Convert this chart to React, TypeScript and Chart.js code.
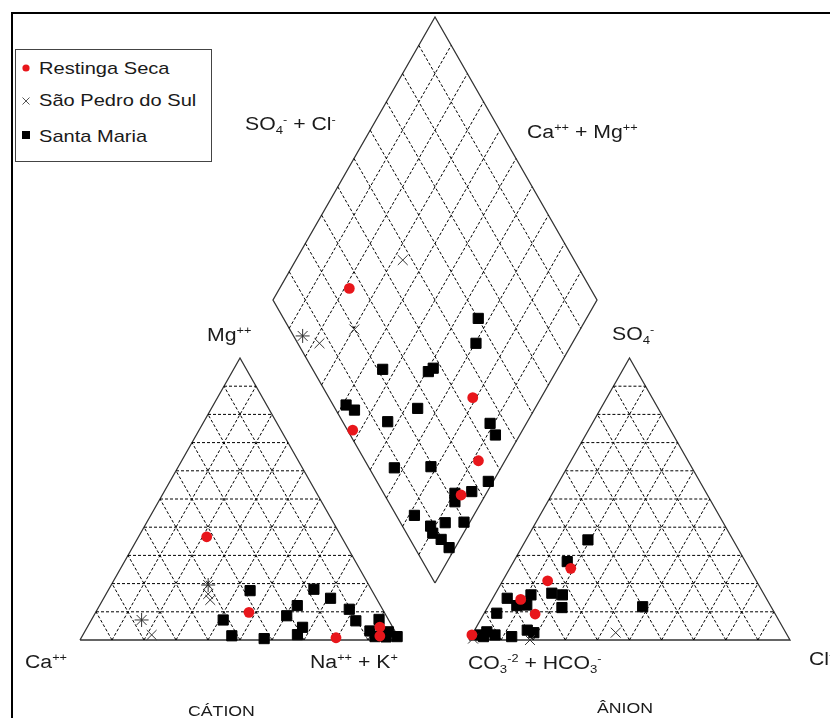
import React, { useEffect, useRef } from "react";
import { Chart, registerables } from "chart.js";

Chart.register(...registerables);

// ---------------- DATA (percent of meq/L) ----------------
// Cation triangle: [Ca++, Mg++, Na+ + K+]
const cationRestingaSeca: number[][] = [
  [42.1, 36.6, 21.3], [42.3, 9.8, 47.9], [19.6, 0.8, 79.6], [4.0, 4.6, 91.4], [5.6, 1.4, 93.0],
];
const cationSaoPedro: number[][] = [
  [50.2, 19.5, 30.3], [51.8, 16.3, 31.9], [52.2, 14.2, 33.6], [77.2, 7.1, 15.7], [76.7, 1.8, 21.5],
];
const cationSantaMaria: number[][] = [
  [38.1, 17.5, 44.4], [17.9, 18.0, 64.1], [14.3, 14.8, 70.9], [26.0, 12.2, 61.8], [10.4, 10.9, 78.7],
  [51.7, 7.1, 41.2], [31.1, 8.6, 60.3], [10.4, 6.8, 82.8], [28.2, 4.5, 67.3], [31.1, 1.9, 67.0],
  [51.8, 1.5, 46.7], [42.2, 0.5, 57.3], [2.9, 7.3, 89.8], [7.8, 3.2, 89.0], [7.2, 1.2, 91.6],
  [2.2, 2.9, 94.9], [0.3, 1.2, 98.5], [3.8, 1.1, 95.1],
];

// Anion triangle: [CO3-2 + HCO3-, SO4-, Cl-]
const anionRestingaSeca: number[][] = [
  [55.6, 25.4, 19.0], [65.0, 21.0, 14.0], [76.7, 14.4, 8.9], [74.8, 9.2, 16.0], [98.2, 1.8, 0.0],
];
const anionSaoPedro: number[][] = [
  [53.0, 2.6, 44.4], [81.0, 0.0, 19.0], [98.5, 0.5, 1.0],
];
const anionSantaMaria: number[][] = [
  [45.2, 35.5, 19.3], [55.5, 27.8, 16.7], [65.9, 16.6, 17.5], [62.9, 16.0, 21.1], [65.3, 11.5, 23.2],
  [80.7, 14.8, 4.5], [72.7, 16.0, 11.3], [79.0, 12.2, 8.8], [75.8, 12.4, 11.8], [86.6, 9.5, 3.9],
  [40.0, 11.8, 48.2], [93.0, 2.9, 4.1], [91.0, 1.8, 7.2], [94.9, 1.2, 3.9], [86.1, 1.2, 12.7],
  [80.1, 3.5, 16.4], [78.5, 2.6, 18.9], [95.7, 1.8, 2.5],
];

// Diamond: [Na+ + K+, SO4- + Cl-]
const diamondRestingaSeca: number[][] = [
  [21.5, 25.6], [78.9, 44.4], [47.6, 1.6], [91.8, 35.0], [92.5, 23.6],
];
const diamondSaoPedro: number[][] = [
  [33.0, 47.1], [15.5, 2.8], [22.0, 6.7], [30.3, 19.9],
];
const diamondSantaMaria: number[][] = [
  [66.6, 60.1], [70.3, 55.0], [46.1, 21.6], [60.6, 35.3], [61.5, 37.4], [41.1, 4.0],
  [44.6, 5.7], [63.8, 25.5], [56.9, 13.9], [88.8, 45.2], [92.5, 44.8], [67.1, 7.8],
  [78.2, 19.3], [98.5, 34.4], [95.2, 27.5], [90.3, 22.0], [91.8, 20.5], [81.7, 5.6],
  [92.5, 13.8], [98.2, 19.7], [88.6, 8.7], [90.5, 8.1], [94.2, 9.6], [98.1, 10.6],
];

const seriesNames = ["Restinga Seca", "São Pedro do Sul", "Santa Maria"];
const gridSteps = [10, 20, 30, 40, 50, 60, 70, 80, 90];

// ---------------- GEOMETRY (layout in canvas units) ----------------
type Pt = { x: number; y: number };
type Tri = { left: Pt; right: Pt; top: Pt };
const W = 830;
const H = 718;
const CAT: Tri = { left: { x: 80, y: 640 }, right: { x: 400, y: 640 }, top: { x: 240, y: 358 } };
const AN: Tri = { left: { x: 469, y: 640 }, right: { x: 790, y: 640 }, top: { x: 629.5, y: 358 } };
const DB: Pt = { x: 435, y: 583 };
const DL: Pt = { x: 273, y: 300 };
const DR: Pt = { x: 597, y: 300 };

function tern(t: Tri, l: number, a: number, r: number): Pt {
  const s = l + a + r;
  return {
    x: (l * t.left.x + a * t.top.x + r * t.right.x) / s,
    y: (l * t.left.y + a * t.top.y + r * t.right.y) / s,
  };
}
function dia(na: number, s: number): Pt {
  const u = 1 - na / 100;
  const v = s / 100;
  return { x: DB.x + u * (DL.x - DB.x) + v * (DR.x - DB.x), y: DB.y + u * (DL.y - DB.y) + v * (DR.y - DB.y) };
}

const RED = "#e8161b";
const FONT = '"Liberation Sans", Arial, Helvetica, sans-serif';

function buildDatasets(): any[] {
  const ds: any[] = [];
  const line = (pts: Pt[], dashed: boolean) => {
    ds.push({
      data: pts,
      showLine: true,
      pointRadius: 0,
      borderColor: dashed ? "#000" : "#333",
      borderWidth: dashed ? 1 : 1.3,
      borderDash: dashed ? [3, 2] : [],
      fill: false,
      clip: false,
      order: 10,
      tension: 0,
    });
  };
  for (const t of [CAT, AN]) {
    for (const f of gridSteps) {
      line([tern(t, 100 - f, f, 0), tern(t, 0, f, 100 - f)], true);
      line([tern(t, 100 - f, 0, f), tern(t, 0, 100 - f, f)], true);
      line([tern(t, f, 0, 100 - f), tern(t, f, 100 - f, 0)], true);
    }
    line([t.left, t.right, t.top, t.left], false);
  }
  for (const f of gridSteps) {
    line([dia(f, 0), dia(f, 100)], true);
    line([dia(0, f), dia(100, f)], true);
  }
  line([dia(100, 0), dia(0, 0), dia(0, 100), dia(100, 100), dia(100, 0)], false);

  const red = [
    ...cationRestingaSeca.map((p) => tern(CAT, p[0], p[1], p[2])),
    ...anionRestingaSeca.map((p) => tern(AN, p[0], p[1], p[2])),
    ...diamondRestingaSeca.map((p) => dia(p[0], p[1])),
  ];
  const cross = [
    ...cationSaoPedro.map((p) => tern(CAT, p[0], p[1], p[2])),
    ...anionSaoPedro.map((p) => tern(AN, p[0], p[1], p[2])),
    ...diamondSaoPedro.map((p) => dia(p[0], p[1])),
  ];
  const starIdx = new Set([0, 3, cationSaoPedro.length + anionSaoPedro.length + 1]);
  const square = [
    ...cationSantaMaria.map((p) => tern(CAT, p[0], p[1], p[2])),
    ...anionSantaMaria.map((p) => tern(AN, p[0], p[1], p[2])),
    ...diamondSantaMaria.map((p) => dia(p[0], p[1])),
  ];
  ds.push({
    label: seriesNames[2],
    data: square,
    showLine: false,
    pointStyle: "rect",
    pointRadius: 7.2,
    pointBackgroundColor: "#000",
    pointBorderColor: "#000",
    pointBorderWidth: 1,
    clip: false,
    order: 3,
  });
  ds.push({
    label: seriesNames[1],
    data: cross,
    showLine: false,
    pointStyle: cross.map((_, i) => (starIdx.has(i) ? "star" : "crossRot")),
    pointRadius: 7,
    pointBorderColor: "#333",
    pointBorderWidth: 1,
    clip: false,
    order: 2,
  });
  ds.push({
    label: seriesNames[0],
    data: red,
    showLine: false,
    pointStyle: "circle",
    pointRadius: 5.4,
    pointBackgroundColor: RED,
    pointBorderColor: RED,
    pointBorderWidth: 0,
    clip: false,
    order: 1,
  });
  return ds;
}

function Label(props: { left: number; capTop: number; size?: number; children: React.ReactNode }) {
  const size = props.size ?? 18;
  return (
    <span
      style={{
        position: "absolute",
        left: props.left,
        top: props.capTop - 0.13 * size,
        fontSize: size,
        lineHeight: `${size}px`,
        fontFamily: FONT,
        whiteSpace: "nowrap",
        color: "#1a1a1a",
        transform: "scaleX(1.18)",
        transformOrigin: "left top",
      }}
    >
      {props.children}
    </span>
  );
}
const Sup = (p: { children: React.ReactNode }) => (
  <span style={{ fontSize: "0.6em", position: "relative", top: "-0.6em" }}>{p.children}</span>
);
const Sub = (p: { children: React.ReactNode }) => (
  <span style={{ fontSize: "0.62em", position: "relative", top: "0.35em" }}>{p.children}</span>
);

export default function App() {
  const ref = useRef<HTMLCanvasElement | null>(null);
  useEffect(() => {
    if (!ref.current) return;
    const chart = new Chart(ref.current, {
      type: "scatter",
      data: { datasets: buildDatasets() },
      options: {
        animation: false,
        responsive: false,
        events: [],
        layout: { padding: 0, autoPadding: false },
        plugins: { legend: { display: false }, tooltip: { enabled: false } },
        scales: {
          x: { type: "linear", min: 0, max: W, display: false },
          y: { type: "linear", min: 0, max: H, reverse: true, display: false },
        },
      },
    });
    return () => chart.destroy();
  }, []);

  return (
    <div style={{ position: "absolute", left: 0, top: 0, width: W, height: H, overflow: "hidden", background: "#fff" }}>
      <canvas ref={ref} width={W} height={H} style={{ position: "absolute", left: 0, top: 0, width: W, height: H }} />
      <div
        style={{
          position: "absolute",
          left: 11,
          top: 12,
          width: W,
          height: H,
          borderTop: "2px solid #000",
          borderLeft: "2px solid #000",
        }}
      />
      {/* Legend */}
      <div
        style={{
          position: "absolute",
          left: 15,
          top: 49,
          width: 197,
          height: 113,
          border: "1px solid #444",
          boxSizing: "border-box",
          background: "#fff",
        }}
      />
      <svg width={20} height={100} style={{ position: "absolute", left: 16, top: 58 }}>
        <circle cx={10} cy={10} r={3.6} fill={RED} />
        <path d="M6.5 39.5 L13.5 46.5 M13.5 39.5 L6.5 46.5" stroke="#555" strokeWidth={1} />
        <rect x={6} y={73} width={8} height={8} fill="#000" />
      </svg>
      <Label left={39} capTop={62} size={17}>{seriesNames[0]}</Label>
      <Label left={39} capTop={94.5} size={17}>{seriesNames[1]}</Label>
      <Label left={39} capTop={130.5} size={17}>{seriesNames[2]}</Label>

      {/* Axis labels */}
      <Label left={245} capTop={117}>
        SO<Sub>4</Sub>
        <Sup>-</Sup> + Cl<Sup>-</Sup>
      </Label>
      <Label left={527} capTop={125}>
        Ca<Sup>++</Sup> + Mg<Sup>++</Sup>
      </Label>
      <Label left={207} capTop={328}>
        Mg<Sup>++</Sup>
      </Label>
      <Label left={612} capTop={327}>
        SO<Sub>4</Sub>
        <Sup>-</Sup>
      </Label>
      <Label left={25} capTop={655}>
        Ca<Sup>++</Sup>
      </Label>
      <Label left={310} capTop={655}>
        Na<Sup>++</Sup> + K<Sup>+</Sup>
      </Label>
      <Label left={468} capTop={656}>
        CO<Sub>3</Sub>
        <Sup>-2</Sup> + HCO<Sub>3</Sub>
        <Sup>-</Sup>
      </Label>
      <Label left={809} capTop={652}>
        Cl<Sup>-</Sup>
      </Label>
      <Label left={188} capTop={705} size={15}>
        CÁTION
      </Label>
      <Label left={597} capTop={702} size={15}>
        ÂNION
      </Label>
    </div>
  );
}
